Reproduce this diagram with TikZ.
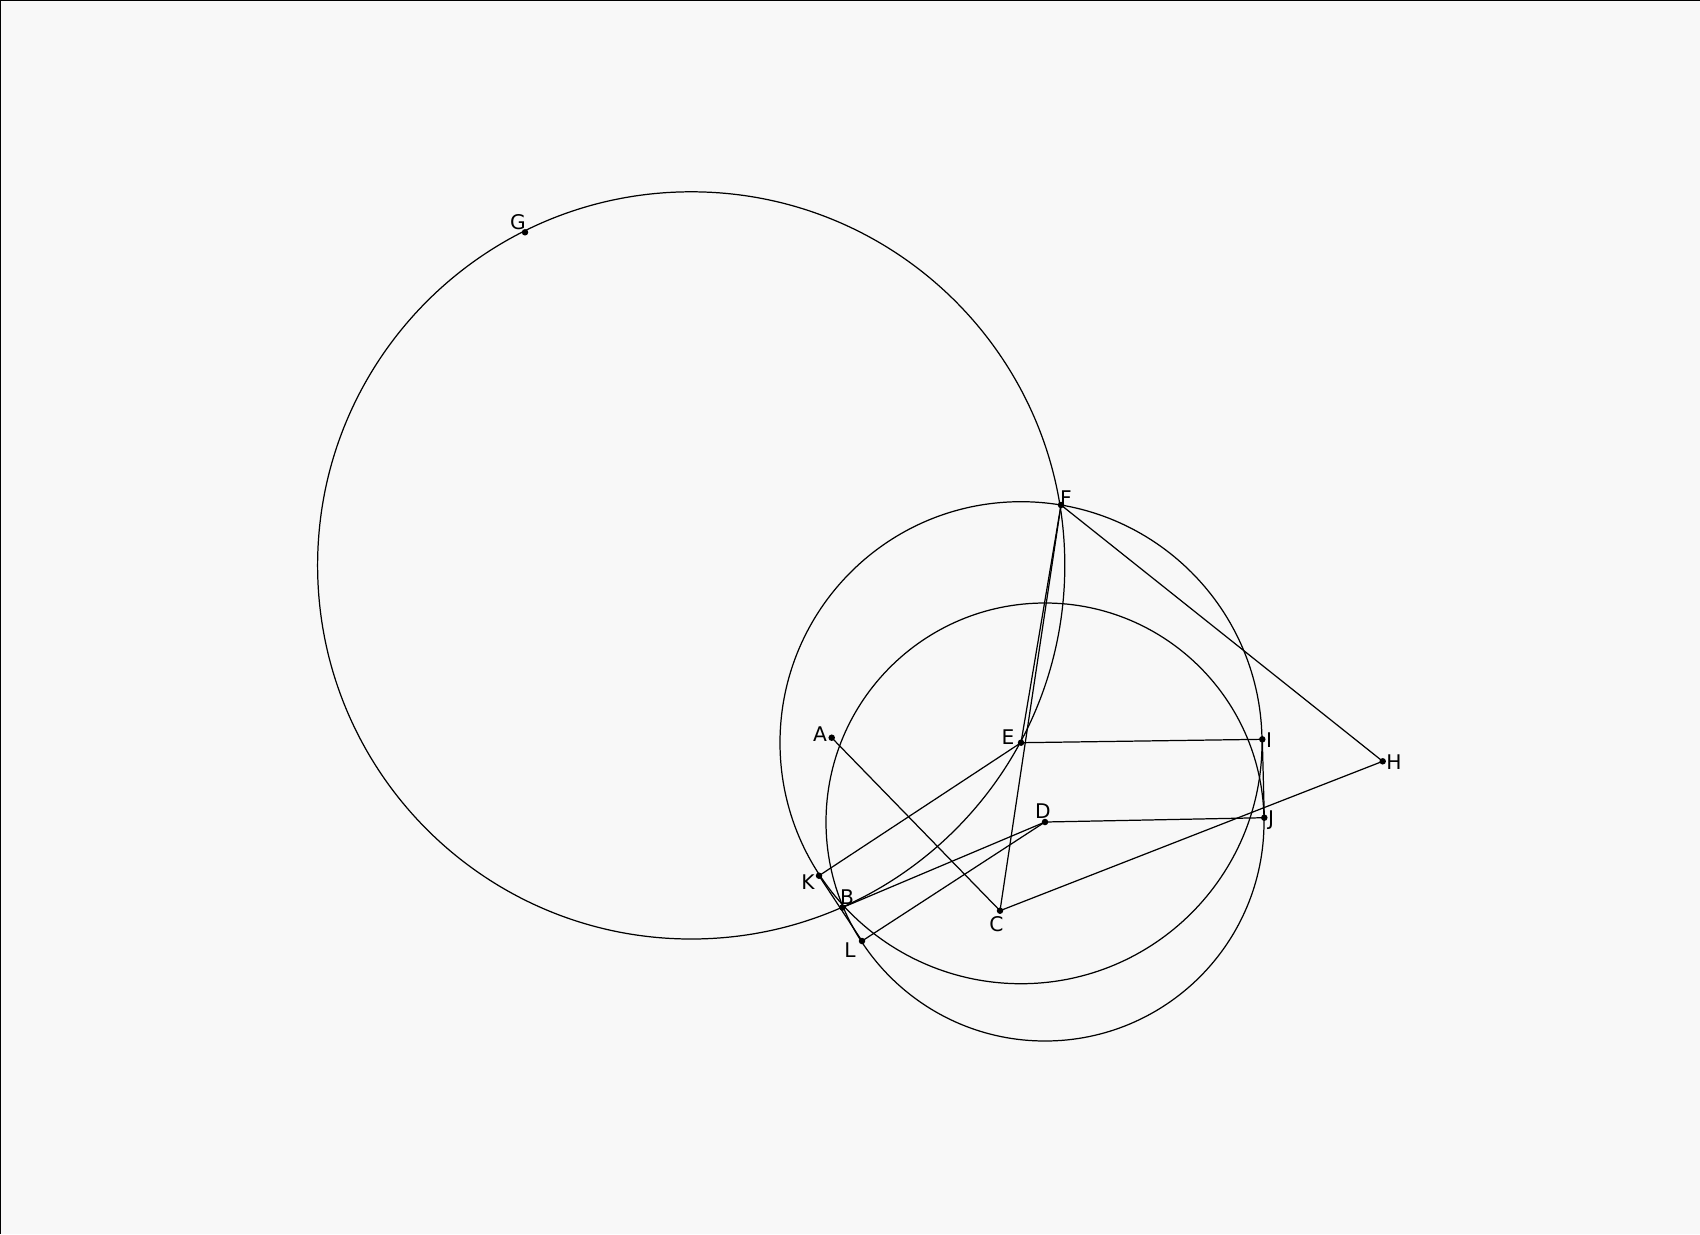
\documentclass[tikz,border=0pt]{standalone}
\usepackage{fontspec}
\setmainfont{DejaVu Sans}
\definecolor{bgc}{RGB}{248,248,248}
\begin{document}
\begin{tikzpicture}[x=0.02cm,y=-0.02cm,
  seg/.style={line width=0.7pt,black},
  pt/.style={circle,fill=black,inner sep=0pt,minimum size=0.13cm},
  lbl/.style={font=\fontsize{11.5}{13}\selectfont,inner sep=0pt}]
\useasboundingbox (0,0) rectangle (1700,1234);
\fill[bgc] (0,0) rectangle (1700,1234);
\draw[line width=1.6pt] (0,1234) -- (0,0) -- (1700,0);
% points
\node[pt] (A) at (831.7,737.7) {};
\node[pt] (B) at (842.5,907.5) {};
\node[pt] (C) at (1000,910.7) {};
\node[pt] (D) at (1045,822) {};
\node[pt] (E) at (1021,742.7) {};
\node[pt] (F) at (1061,505) {};
\node[pt] (G) at (525,232.3) {};
\node[pt] (H) at (1382.7,761.3) {};
\node[pt] (I) at (1262.3,739.3) {};
\node[pt] (J) at (1264.3,817.7) {};
\node[pt] (K) at (819,875.7) {};
\node[pt] (L) at (862,941) {};
\coordinate (O) at (691.2,565.4);
% circles
\draw[seg] (O) circle[radius=373.6];
\draw[seg] (E.center) circle[radius=241];
\draw[seg] (D.center) circle[radius=219];
% segments
\draw[seg] (A.center) -- (C.center);
\draw[seg] (F.center) -- (E.center);
\draw[seg] (F.center) -- (C.center);
\draw[seg] (F.center) -- (H.center);
\draw[seg] (H.center) -- (C.center);
\draw[seg] (E.center) -- (I.center);
\draw[seg] (I.center) -- (J.center);
\draw[seg] (D.center) -- (J.center);
\draw[seg] (E.center) -- (K.center);
\draw[seg] (K.center) -- (L.center);
\draw[seg] (B.center) -- (D.center);
\draw[seg] (L.center) -- (D.center);
% labels
\node[lbl] (lA) at (820,734) {A};
\node[lbl] (lB) at (847,897) {B};
\node[lbl] (lC) at (996.5,924) {C};
\node[lbl] (lD) at (1043,811) {D};
\node[lbl] (lE) at (1008,737) {E};
\node[lbl] (lF) at (1066,498) {F};
\node[lbl] (lG) at (518,222) {G};
\node[lbl] (lH) at (1394,762) {H};
\node[lbl] (lI) at (1269,740) {I};
\node[lbl] (lJ) at (1271,820) {J};
\node[lbl] (lK) at (808,882) {K};
\node[lbl] (lL) at (850,950) {L};
\end{tikzpicture}
\end{document}
